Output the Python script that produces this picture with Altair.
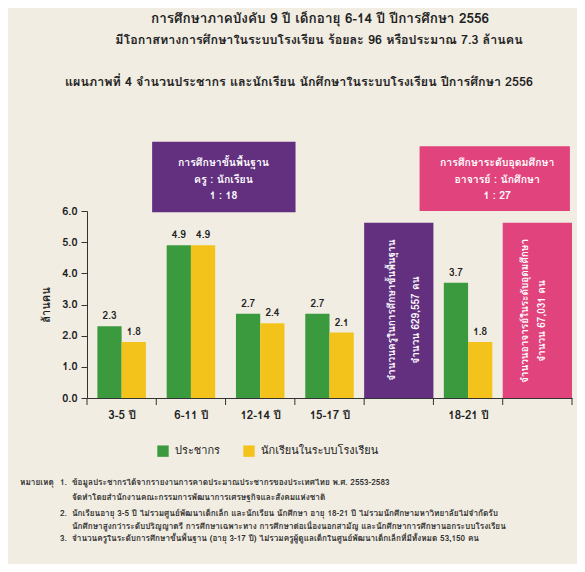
import altair as alt
import pandas as pd

# ---------------- data ----------------
categories = ["3-5 ปี", "6-11 ปี", "12-14 ปี", "15-17 ปี", "18-21 ปี"]
slots = [0, 1, 2, 3, 5]                     # slot index on the x axis (slot 4 and 6 hold the boxes)
population = [2.3, 4.9, 2.7, 2.7, 3.7]      # ประชากร (ล้านคน)
students = [1.8, 4.9, 2.4, 2.1, 1.8]        # นักเรียนในระบบโรงเรียน (ล้านคน)
series = ["ประชากร", "นักเรียนในระบบโรงเรียน"]
series_colors = ["#3c9a3e", "#f4c31b"]
y_ticks = [0, 1, 2, 3, 4, 5, 6]

title_lines = [
    "การศึกษาภาคบังคับ 9 ปี เด็กอายุ 6-14 ปี ปีการศึกษา 2556",
    "มีโอกาสทางการศึกษาในระบบโรงเรียน ร้อยละ 96 หรือประมาณ 7.3 ล้านคน",
]
subtitle = "แผนภาพที่ 4   จำนวนประชากร และนักเรียน นักศึกษาในระบบโรงเรียน ปีการศึกษา 2556"

top_box_lines = {
    "purple": ["การศึกษาขั้นพื้นฐาน", "ครู : นักเรียน", "1 : 18"],
    "pink": ["การศึกษาระดับอุดมศึกษา", "อาจารย์ : นักศึกษา", "1 : 27"],
}
side_box_lines = {
    "purple": ["จำนวนครูในการศึกษาขั้นพื้นฐาน", "จำนวน 629,557 คน"],
    "pink": ["จำนวนอาจารย์ในระดับอุดมศึกษา", "จำนวน 67,031 คน"],
}
notes = [
    ("1.", "ข้อมูลประชากรได้จากรายงานการคาดประมาณประชากรของประเทศไทย พ.ศ. 2553-2583"),
    ("", "จัดทำโดยสำนักงานคณะกรรมการพัฒนาการเศรษฐกิจและสังคมแห่งชาติ"),
    ("2.", "นักเรียนอายุ 3-5 ปี ไม่รวมศูนย์พัฒนาเด็กเล็ก และนักเรียน นักศึกษา อายุ 18-21 ปี ไม่รวมนักศึกษามหาวิทยาลัยไม่จำกัดรับ"),
    ("", "นักศึกษาสูงกว่าระดับปริญญาตรี การศึกษาเฉพาะทาง การศึกษาต่อเนื่องนอกสามัญ และนักศึกษาการศึกษานอกระบบโรงเรียน"),
    ("3.", "จำนวนครูในระดับการศึกษาขั้นพื้นฐาน (อายุ 3-17 ปี) ไม่รวมครูผู้ดูแลเด็กในศูนย์พัฒนาเด็กเล็กที่มีทั้งหมด 53,150 คน"),
]

# ---------------- layout / style ----------------
FONT = "Tahoma, Loma, Garuda, 'Noto Sans Thai', 'Noto Sans', sans-serif"
W, H = 485, 187
BG = "#f1ede2"
PURPLE = "#62307f"
PINK = "#e1437c"
DARK = "#222222"

rows = []
for cat, s, p, st in zip(categories, slots, population, students):
    rows.append({"cat": cat, "series": series[0], "x0": s + 0.15, "x1": s + 0.5, "value": p})
    rows.append({"cat": cat, "series": series[1], "x0": s + 0.5, "x1": s + 0.85, "value": st})
bars_df = pd.DataFrame(rows)

label_arr = [""] * 7
for cat, s in zip(categories, slots):
    label_arr[s] = cat
label_expr = "[" + ",".join("'" + l + "'" for l in label_arr) + "][floor(datum.value)]"

xscale = alt.Scale(domain=[0, 7], nice=False, zero=False)
yscale = alt.Scale(domain=[0, 6], nice=False, zero=True)

bars = alt.Chart(bars_df).mark_bar().encode(
    x=alt.X("x0:Q", scale=xscale,
            axis=alt.Axis(values=[s + 0.5 for s in slots], labelExpr=label_expr, ticks=False,
                          grid=False, title=None, labelPadding=11, labelFontSize=11.5,
                          labelFontWeight="bold", labelColor=DARK, domainColor="#333",
                          labelFont=FONT)),
    x2="x1:Q",
    y=alt.Y("value:Q", scale=yscale,
            axis=alt.Axis(values=y_ticks, format=".1f", grid=False, title="ล้านคน",
                          titleFont=FONT, titleFontSize=11, titleFontWeight="bold",
                          titleColor=DARK, titlePadding=10, labelFont=FONT, labelFontSize=11,
                          labelFontWeight="bold", labelColor=DARK, tickSize=6,
                          tickColor="#333", domainColor="#333", labelPadding=4)),
    y2=alt.Y2(datum=0),
    color=alt.Color("series:N", scale=alt.Scale(domain=series, range=series_colors),
                    legend=alt.Legend(orient="none", legendX=70, legendY=234,
                                      direction="horizontal", title=None,
                                      symbolType="square", symbolSize=130,
                                      symbolStrokeWidth=0, labelFont=FONT,
                                      labelFontSize=11, labelColor=DARK,
                                      columnPadding=22, labelOffset=6)),
)

bar_labels = alt.Chart(bars_df).mark_text(
    font=FONT, fontSize=10, fontWeight="bold", color=DARK, baseline="bottom", dy=-5
).encode(
    x=alt.X("mid:Q", scale=xscale, axis=None),
    y=alt.Y("value:Q", scale=yscale, axis=None),
    text=alt.Text("value:Q", format=".1f"),
).transform_calculate(mid="(datum.x0 + datum.x1) / 2")

# boundary tick marks below the x axis
tick_df = pd.DataFrame({"b": [0, 1, 2, 3, 4, 5, 6, 7]})
ticks = alt.Chart(tick_df).mark_rule(color="#333", strokeWidth=1).encode(
    x=alt.X("b:Q", scale=xscale, axis=None),
    y=alt.value(H),
    y2=alt.value(H + 7),
)

# annotation boxes (data units of the two scales)
boxes_df = pd.DataFrame({
    "x0": [0.94, 4.80, 4.0, 6.0],
    "x1": [3.01, 6.97, 5.0, 7.0],
    "y0": [5.96, 6.0, 0.0, 0.0],
    "y1": [8.22, 8.08, 5.62, 5.62],
    "col": [PURPLE, PINK, PURPLE, PINK],
})
boxes = alt.Chart(boxes_df).mark_rect().encode(
    x=alt.X("x0:Q", scale=xscale, axis=None), x2="x1:Q",
    y=alt.Y("y0:Q", scale=yscale, axis=None), y2="y1:Q",
    color=alt.Color("col:N", scale=None),
)

top_rows = []
for key, cx in (("purple", 1.97), ("pink", 5.92)):
    for line, yy in zip(top_box_lines[key], [7.54, 6.99, 6.49]):
        top_rows.append({"t": line, "x": cx, "y": yy})
top_text = alt.Chart(pd.DataFrame(top_rows)).mark_text(
    font=FONT, fontSize=10.5, fontWeight="bold", color="white", baseline="middle", align="center"
).encode(
    x=alt.X("x:Q", scale=xscale, axis=None),
    y=alt.Y("y:Q", scale=yscale, axis=None),
    text="t:N",
)

side_rows = []
for key, xs, ys in (("purple", [4.40, 4.75], [2.82, 2.50]), ("pink", [6.32, 6.57], [2.79, 2.47])):
    for line, xx, yy in zip(side_box_lines[key], xs, ys):
        side_rows.append({"t": line, "x": xx, "y": yy})
side_text = alt.Chart(pd.DataFrame(side_rows)).mark_text(
    font=FONT, fontSize=10, fontWeight="bold", color="white", baseline="middle",
    align="center", angle=270
).encode(
    x=alt.X("x:Q", scale=xscale, axis=None),
    y=alt.Y("y:Q", scale=yscale, axis=None),
    text="t:N",
)


def label(text, px, py, size, weight="bold", align="center", color=DARK):
    return alt.Chart(pd.DataFrame({"t": [text]})).mark_text(
        font=FONT, fontSize=size, fontWeight=weight, align=align, baseline="middle", color=color
    ).encode(x=alt.value(px), y=alt.value(py), text="t:N")


texts = [
    label(title_lines[0], 233, -192, 13.5),
    label(title_lines[1], 232, -171, 12.5),
    label(subtitle, 212, -129, 12.5),
    label("หมายเหตุ", -67, 272, 8.2, align="left", color="#333"),
]
for (num, line), py in zip(notes, [272, 286.5, 303, 315.5, 327.5]):
    if num:
        texts.append(label(num, -27, py, 8.2, align="left", color="#333"))
    texts.append(label(line, -15, py, 8.2, align="left", color="#333"))

chart = alt.layer(bars, boxes, bar_labels, ticks, top_text, side_text, *texts).resolve_axis(
    x="independent", y="independent"
).properties(
    width=W, height=H,
    padding={"left": 79, "top": 203, "right": 5, "bottom": 166},
    autosize=alt.AutoSizeParams(type="none"),
    background=BG,
).configure_view(stroke=None)

chart.save("out.html", embed_options={"renderer": "svg", "actions": False})
